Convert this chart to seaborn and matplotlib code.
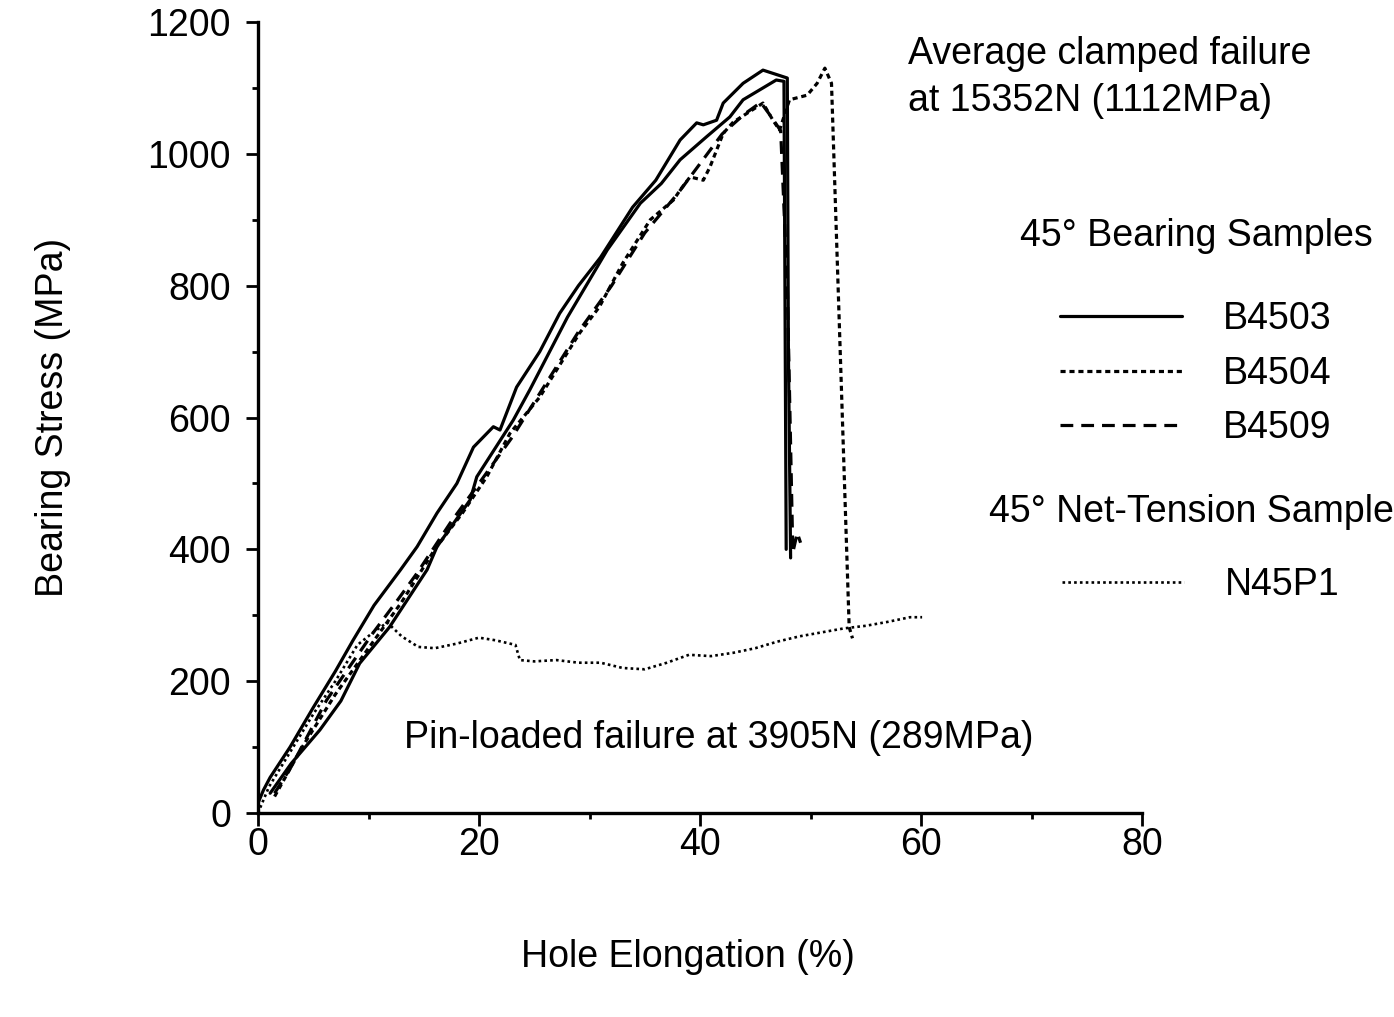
import seaborn as sns
import matplotlib.pyplot as plt
from matplotlib.ticker import MultipleLocator

# B4503 (upper solid trace)
b4503_x = [0, 0.5, 1.1, 2.9, 5, 7, 8.6, 10.5, 12.9, 14.4, 16.2, 18, 19.5, 21.3, 21.9, 23.4,
           25.5, 27.3, 29, 31, 33.9, 36, 38.2, 39.7, 40.3, 41.5, 42.1, 43.9, 45.7, 47.9, 48.0, 48.2]
b4503_y = [15, 35, 54, 100, 160, 215, 262, 315, 369, 404, 455, 500, 555, 586, 581, 646,
           700, 758, 800, 843, 919, 960, 1021, 1047, 1044, 1051, 1077, 1107, 1127, 1115, 700, 387]

# second solid trace (no legend entry)
b4503b_x = [1.1, 3, 5.6, 7.5, 9.2, 11.9, 15.3, 16.2, 19.2, 19.8, 23.1, 24.6, 28, 31.6, 34.6,
            36.5, 38.2, 40.6, 42.7, 43.9, 46.9, 47.6, 47.8]
b4503b_y = [30, 75, 126, 170, 227, 282, 369, 404, 475, 510, 596, 642, 752, 854, 925,
            955, 991, 1026, 1056, 1082, 1112, 1110, 400]

b4504_x = [1.5, 4, 7, 10, 13, 16, 18.5, 20.7, 22.8, 25.5, 29.1, 30.9, 33, 35.5, 37.6, 38.2,
           39.1, 40.3, 40.9, 42.1, 43, 45.7, 46.6, 47.2, 48.1, 49.7, 50.6, 51.3, 51.9, 53.5, 53.8]
b4504_y = [25, 100, 180, 250, 320, 400, 455, 510, 576, 631, 728, 768, 834, 900, 930, 945,
           965, 960, 980, 1031, 1048, 1077, 1051, 1036, 1082, 1089, 1107, 1130, 1107, 282, 265]

b4509_x = [1.5, 3, 6.2, 8, 10.4, 12.5, 14.4, 17.4, 20, 23, 26, 29, 32, 35, 38, 40, 42, 44,
           45.5, 46.5, 47.3, 47.9, 48.4, 48.8, 49.1]
b4509_y = [30, 70, 171, 215, 273, 320, 364, 440, 500, 570, 650, 730, 800, 880, 940, 985, 1030, 1060,
           1078, 1055, 1035, 800, 395, 425, 410]

n45p1_x = [0, 1, 3, 5, 7, 9, 10.5, 11.7, 13, 14.5, 16, 18, 20, 21.5, 23.3, 23.7, 25, 27, 29, 31,
           33, 35, 37, 39, 41, 43, 45, 47, 49, 51, 53, 55, 57, 59, 60.1]
n45p1_y = [0, 40, 95, 150, 200, 255, 275, 289, 268, 252, 250, 257, 266, 262, 255, 232, 230, 232,
           228, 228, 220, 218, 228, 240, 238, 243, 250, 260, 268, 274, 280, 284, 290, 297, 297]

sns.set_style("ticks")
plt.rcParams['font.family'] = ['Liberation Sans', 'DejaVu Sans']
plt.rcParams['font.size'] = 27
plt.rcParams['text.color'] = 'black'
plt.rcParams['axes.labelcolor'] = 'black'

fs = 27
fig = plt.figure(figsize=(13.94, 10.17), dpi=100)
ax = fig.add_axes([258/1394, 1-813/1017, (1142-258)/1394, (813-22)/1017])

lw = 2.3
sns.lineplot(x=b4503_x, y=b4503_y, sort=False, color="black", lw=lw, ax=ax, label="B4503")
sns.lineplot(x=b4504_x, y=b4504_y, sort=False, color="black", lw=lw, ax=ax, label="B4504",
             linestyle=(0, (1.6, 1.2)))
sns.lineplot(x=b4509_x, y=b4509_y, sort=False, color="black", lw=lw, ax=ax, label="B4509",
             linestyle=(0, (4, 2.5)))
sns.lineplot(x=n45p1_x, y=n45p1_y, sort=False, color="black", lw=1.9, ax=ax, label="N45P1",
             linestyle=(0, (1, 1.2)))
sns.lineplot(x=b4503b_x, y=b4503b_y, sort=False, color="black", lw=lw, ax=ax, label="_nolegend_")

ax.set_xlim(0, 80)
ax.set_ylim(0, 1200)
ax.xaxis.set_major_locator(MultipleLocator(20))
ax.xaxis.set_minor_locator(MultipleLocator(10))
ax.yaxis.set_major_locator(MultipleLocator(200))
ax.yaxis.set_minor_locator(MultipleLocator(100))
ax.tick_params(which="major", length=9, width=2, direction="out", colors="black", labelsize=fs)
ax.tick_params(axis="y", which="major", pad=10.5)
ax.tick_params(axis="x", which="major", pad=1)
ax.tick_params(which="minor", length=4, width=2, direction="out", colors="black")
for s in ["top", "right"]:
    ax.spines[s].set_visible(False)
for s in ["left", "bottom"]:
    ax.spines[s].set_linewidth(2.4)
    ax.spines[s].set_color("black")

ax.set_xlabel("Hole Elongation (%)", fontsize=fs)
ax.set_ylabel("Bearing Stress (MPa)", fontsize=fs)
ax.xaxis.set_label_coords((688-258)/884, (813-939)/791)
ax.yaxis.set_label_coords((71-258)/884, 0.5)

ax.text(58.8, 1136, "Average clamped failure", fontsize=fs)
ax.text(58.8, 1065, "at 15352N (1112MPa)", fontsize=fs)
ax.text(13.2, 99, "Pin-loaded failure at 3905N (289MPa)", fontsize=fs)

handles, labels = ax.get_legend_handles_labels()
if ax.get_legend():
    ax.get_legend().remove()
hmap = dict(zip(labels, handles))

leg_kw = dict(frameon=False, fontsize=fs, title_fontsize=fs, handlelength=3.25, handletextpad=1.1,
              labelspacing=0.5, borderpad=0, loc="upper center")
leg1 = fig.legend([hmap["B4503"], hmap["B4504"], hmap["B4509"]], ["B4503", "B4504", "B4509"],
                  title="45° Bearing Samples", bbox_to_anchor=(1196/1394, 1-199/1017), **leg_kw)
leg1._legend_box.sep = 34
leg2 = fig.legend([hmap["N45P1"]], ["N45P1"], title="45° Net-Tension Samples",
                  bbox_to_anchor=(1201/1394, 1-475/1017), **leg_kw)
leg2._legend_box.sep = 27

plt.savefig("out.png", dpi=100)
